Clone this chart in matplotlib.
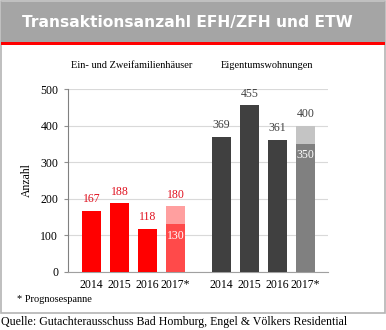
import matplotlib.pyplot as plt
from matplotlib.patches import Rectangle

# data
years = ['2014', '2015', '2016', '2017*']
efh = [167, 188, 118]
efh_2017 = [130, 180]   # prognosis range low / high
etw = [369, 455, 361]
etw_2017 = [350, 400]

serif = 'Liberation Serif'
fig = plt.figure(figsize=(3.86, 3.30), dpi=100)
W, H = 386, 330

# frame, header band and red line
fig.patches.append(Rectangle((0.5/W, 1 - 313/H), 384.5/W, 312/H, transform=fig.transFigure,
                             facecolor='white', edgecolor='#b4b4b4', lw=1.2, zorder=-2))
fig.patches.append(Rectangle((0.5/W, 1 - 42/H), 384.5/W, 40/H, transform=fig.transFigure,
                             facecolor='#a5a5a5', edgecolor='none', zorder=-1))
fig.patches.append(Rectangle((0.5/W, 1 - 44.5/H), 384.5/W, 2.5/H, transform=fig.transFigure,
                             facecolor='#ff0000', edgecolor='none', zorder=-1))
fig.text(187/W, 1 - 22/H, 'Transaktionsanzahl EFH/ZFH und ETW', color='white',
         fontsize=11.2, fontweight='bold', family='DejaVu Sans', ha='center', va='center')

ax = fig.add_axes([68/W, 1 - 272/H, 260/W, 183/H])
ax.patch.set_alpha(0)
x_efh = [0, 1, 2]
x_etw = [4.64, 5.64, 6.64]
bw = 0.68
red_lbl = '#e0101e'
gray_lbl = '#404040'

ax.bar(x_efh, efh, width=bw, color='#ff0000', zorder=3)
ax.bar(3, efh_2017[0], width=bw, color='#ff4a4a', zorder=3)
ax.bar(3, efh_2017[1] - efh_2017[0], bottom=efh_2017[0], width=bw, color='#ff9f9f', zorder=3)
ax.bar(x_etw, etw, width=bw, color='#404040', zorder=3)
ax.bar(7.64, etw_2017[0], width=bw, color='#808080', zorder=3)
ax.bar(7.64, etw_2017[1] - etw_2017[0], bottom=etw_2017[0], width=bw, color='#c4c4c4', zorder=3)

for xi, v in zip(x_efh + [3], efh + [efh_2017[1]]):
    ax.annotate(str(v), (xi, v), xytext=(0, 4), textcoords='offset points', ha='center',
                va='bottom', color=red_lbl, fontsize=8.5, family=serif)
for xi, v in zip(x_etw + [7.64], etw + [etw_2017[1]]):
    ax.annotate(str(v), (xi, v), xytext=(0, 4), textcoords='offset points', ha='center',
                va='bottom', color=gray_lbl, fontsize=8.5, family=serif)
ax.annotate(str(efh_2017[0]), (3, efh_2017[0]), xytext=(0, -4), textcoords='offset points',
            ha='center', va='top', color='white', fontsize=8.5, family=serif)
ax.annotate(str(etw_2017[0]), (7.64, etw_2017[0]), xytext=(0, -4), textcoords='offset points',
            ha='center', va='top', color='white', fontsize=8.5, family=serif)

ax.set_xlim(-0.84, 8.45)
ax.set_ylim(0, 500)
ax.set_yticks(range(0, 501, 100))
ax.set_xticks(x_efh + [3] + x_etw + [7.64])
ax.set_xticklabels(years + years, family=serif, fontsize=8.5)
for lbl in ax.get_yticklabels():
    lbl.set_family(serif)
    lbl.set_fontsize(8.5)
ax.tick_params(axis='x', length=0, pad=5)
ax.tick_params(axis='y', length=3, color='#909090', pad=4)
ax.grid(axis='y', color='#d9d9d9', lw=0.8, zorder=0)
for s in ['top', 'right']:
    ax.spines[s].set_visible(False)
ax.spines['left'].set_color('#808080')
ax.spines['bottom'].set_color('#a0a0a0')
ax.set_ylabel('Anzahl', family=serif, fontsize=8.5, labelpad=5)

fig.text(132/W, 1 - 66/H, 'Ein- und Zweifamilienhäuser', family=serif, fontsize=7.5,
         ha='center', va='center')
fig.text(267/W, 1 - 66/H, 'Eigentumswohnungen', family=serif, fontsize=7.5,
         ha='center', va='center')
fig.text(17/W, 1 - 300/H, '* Prognosespanne', family=serif, fontsize=7.5, ha='left', va='center')
fig.text(1/W, 1 - 322/H, 'Quelle: Gutachterausschuss Bad Homburg, Engel & Völkers Residential',
         family=serif, fontsize=8.6, ha='left', va='center')

fig.savefig('out.png', dpi=100)
